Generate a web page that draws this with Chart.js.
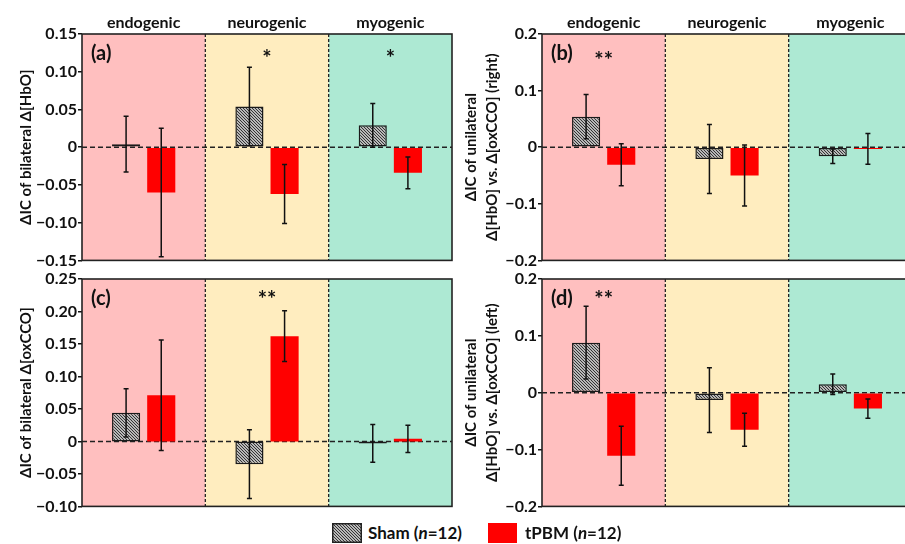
<!DOCTYPE html>
<html>
<head>
<meta charset="utf-8">
<script src="https://cdn.jsdelivr.net/npm/chart.js@4"></script>
<style>
  html, body { margin: 0; padding: 0; background: #fff; overflow: hidden; }
  #wrap { position: relative; width: 905px; height: 544px; overflow: hidden; font-family: Lato, sans-serif; font-weight: bold; }
  canvas { position: absolute; }
  .leg { position: absolute; top: 521px; font-size: 17px; line-height: 24px; color: #111; }
  .sw { position: absolute; top: 523px; height: 20px; }
</style>
</head>
<body>
<div id="wrap">
  <canvas id="ca" width="460" height="271" style="left:0;top:0"></canvas>
  <canvas id="cb" width="465" height="271" style="left:455px;top:0"></canvas>
  <canvas id="cc" width="460" height="255" style="left:0;top:262px"></canvas>
  <canvas id="cd" width="465" height="255" style="left:455px;top:262px"></canvas>
  <canvas id="swSham" class="sw" width="30" height="20" style="left:332px"></canvas>
  <div class="leg" style="left:368px">Sham (<i>n</i>=12)</div>
  <div class="sw" style="left:488px;width:29px;background:#ff0000"></div>
  <div class="leg" style="left:525px">tPBM (<i>n</i>=12)</div>
</div>
<script>
const categories = ['endogenic', 'neurogenic', 'myogenic'];

// (a) bilateral HbO
const shamA = [0.004, 0.054, 0.029];
const shamAErr = [0.037, 0.052, 0.029];
const tpbmA = [-0.060, -0.062, -0.034];
const tpbmAErr = [0.085, 0.039, 0.021];

// (b) unilateral HbO vs oxCCO (right)
const shamB = [0.054, -0.021, -0.016];
const shamBErr = [0.039, 0.061, 0.013];
const tpbmB = [-0.031, -0.050, -0.003];
const tpbmBErr = [0.037, 0.054, 0.027];

// (c) bilateral oxCCO
const shamC = [0.044, -0.035, -0.003];
const shamCErr = [0.037, 0.053, 0.029];
const tpbmC = [0.071, 0.162, 0.004];
const tpbmCErr = [0.085, 0.039, 0.021];

// (d) unilateral HbO vs oxCCO (left)
const shamD = [0.088, -0.013, 0.015];
const shamDErr = [0.064, 0.057, 0.018];
const tpbmD = [-0.111, -0.065, -0.028];
const tpbmDErr = [0.052, 0.029, 0.017];

const starsA = ['', '*', '*'];
const starsB = ['**', '', ''];
const starsC = ['', '**', ''];
const starsD = ['**', '', ''];

const bgColors = ['#ffbfbf', '#ffedbf', '#ade9d3'];
const FONT = 'Lato, sans-serif';

function makeHatch(ctx) {
  const c = document.createElement('canvas');
  c.width = 3; c.height = 3;
  const g = c.getContext('2d');
  g.fillStyle = '#f2f2f2';
  g.fillRect(0, 0, 3, 3);
  g.strokeStyle = '#2a2a2a';
  g.lineWidth = 1.1;
  g.beginPath();
  g.moveTo(-1, -1); g.lineTo(4, 4);
  g.moveTo(-1, 2); g.lineTo(1, 4);
  g.moveTo(2, -1); g.lineTo(4, 1);
  g.stroke();
  return ctx.createPattern(c, 'repeat');
}

// legend swatch
(function () {
  const g = document.getElementById('swSham').getContext('2d');
  g.fillStyle = makeHatch(g);
  g.fillRect(0, 0, 30, 20);
  g.strokeStyle = '#222';
  g.lineWidth = 1.5;
  g.strokeRect(0.75, 0.75, 28.5, 18.5);
})();

const panelPlugin = {
  id: 'panel',
  beforeDatasetsDraw(chart, args, opts) {
    const { ctx, chartArea: a, scales: { x, y } } = chart;
    const w = x.getPixelForValue(1) - x.getPixelForValue(0);
    ctx.save();
    categories.forEach((c, i) => {
      const cx = x.getPixelForValue(i);
      const l = Math.max(a.left, cx - w / 2), r = Math.min(a.right, cx + w / 2);
      ctx.fillStyle = bgColors[i];
      ctx.fillRect(l, a.top, r - l, a.bottom - a.top);
    });
    ctx.strokeStyle = '#222';
    ctx.lineWidth = 1.3;
    ctx.setLineDash([3, 2]);
    for (let i = 1; i < categories.length; i++) {
      const bx = x.getPixelForValue(i) - w / 2;
      ctx.beginPath(); ctx.moveTo(bx, a.top); ctx.lineTo(bx, a.bottom); ctx.stroke();
    }
    ctx.lineWidth = 1.6;
    ctx.setLineDash([5, 3]);
    const y0 = y.getPixelForValue(0);
    ctx.beginPath(); ctx.moveTo(a.left, y0); ctx.lineTo(a.right, y0); ctx.stroke();
    ctx.restore();
  },
  afterDatasetsDraw(chart, args, opts) {
    const { ctx, chartArea: a, scales: { x, y } } = chart;
    ctx.save();
    // error bars
    ctx.strokeStyle = '#111';
    ctx.lineWidth = 1.5;
    chart.data.datasets.forEach((ds, d) => {
      const meta = chart.getDatasetMeta(d);
      ds.data.forEach((v, i) => {
        const e = opts.errs[d][i];
        const bx = meta.data[i].x;
        const yt = y.getPixelForValue(v + e), yb = y.getPixelForValue(v - e);
        ctx.beginPath();
        ctx.moveTo(bx, yt); ctx.lineTo(bx, yb);
        ctx.moveTo(bx - 2.5, yt); ctx.lineTo(bx + 2.5, yt);
        ctx.moveTo(bx - 2.5, yb); ctx.lineTo(bx + 2.5, yb);
        ctx.stroke();
      });
    });
    // significance stars
    ctx.fillStyle = '#111';
    ctx.textAlign = 'center';
    ctx.textBaseline = 'middle';
    ctx.font = 'bold 22px ' + FONT;
    opts.stars.forEach((s, i) => {
      if (s) ctx.fillText(s, x.getPixelForValue(i), a.top + opts.starY);
    });
    // panel tag
    ctx.textAlign = 'left';
    ctx.font = 'bold 20px ' + FONT;
    ctx.fillText(opts.tag, a.left + 9, a.top + 20);
    // frame
    ctx.strokeStyle = '#222';
    ctx.lineWidth = 1.6;
    ctx.strokeRect(a.left, a.top, a.right - a.left, a.bottom - a.top);
    ctx.restore();
  }
};

function makeChart(id, sham, tpbm, errs, stars, starY, tag, yMin, yMax, step, dec, title, axisW, top, titlePad) {
  const ctx = document.getElementById(id).getContext('2d');
  const xScale = {
    position: 'top',
    display: top,
    grid: { display: false, drawTicks: false },
    border: { display: false },
    ticks: { color: '#111', padding: 2, font: { family: FONT, size: 16, weight: 'bold' } }
  };
  if (top) xScale.afterFit = (s) => { s.height = 34; };
  return new Chart(ctx, {
    type: 'bar',
    data: {
      labels: categories,
      datasets: [
        { label: 'Sham', data: sham, backgroundColor: makeHatch(ctx), borderColor: '#1a1a1a', borderWidth: 1.5, borderSkipped: false },
        { label: 'tPBM', data: tpbm, backgroundColor: '#ff0000', borderWidth: 0 }
      ]
    },
    options: {
      responsive: false,
      animation: false,
      categoryPercentage: 0.57,
      barPercentage: 0.8,
      layout: { padding: { top: top ? 0 : 17, right: 8, bottom: 10, left: 0 } },
      plugins: {
        legend: { display: false },
        tooltip: { enabled: false },
        panel: { errs: errs, stars: stars, starY: starY, tag: tag }
      },
      scales: {
        x: xScale,
        y: {
          min: yMin,
          max: yMax,
          grid: { display: true, drawOnChartArea: false, drawTicks: true, tickLength: 4, color: '#111', lineWidth: 1.5 },
          border: { display: false },
          ticks: {
            stepSize: step,
            padding: 1,
            color: '#111',
            font: { family: FONT, size: 16, weight: 'bold' },
            callback: (v) => {
              if (Math.abs(v) < 1e-9) return '0';
              const s = Math.abs(v).toFixed(dec);
              return v < 0 ? '\u2212' + s : s;
            }
          },
          title: {
            display: true,
            text: title,
            color: '#111',
            padding: { top: titlePad, bottom: 0 },
            font: { family: FONT, size: 15, weight: 'bold', lineHeight: 1.4 }
          },
          afterFit: (s) => { s.width = axisW; }
        }
      }
    },
    plugins: [panelPlugin]
  });
}

makeChart('ca', shamA, tpbmA, [shamAErr, tpbmAErr], starsA, 25, '(a)', -0.15, 0.15, 0.05, 2,
  '\u0394IC of bilateral \u0394[HbO]', 82, true, 16);
makeChart('cb', shamB, tpbmB, [shamBErr, tpbmBErr], starsB, 27, '(b)', -0.2, 0.2, 0.1, 1,
  ['\u0394IC of unilateral', '\u0394[HbO] vs. \u0394[oxCCO] (right)'], 87, true, 6);
makeChart('cc', shamC, tpbmC, [shamCErr, tpbmCErr], starsC, 21, '(c)', -0.10, 0.25, 0.05, 2,
  '\u0394IC of bilateral \u0394[oxCCO]', 82, false, 16);
makeChart('cd', shamD, tpbmD, [shamDErr, tpbmDErr], starsD, 21, '(d)', -0.2, 0.2, 0.1, 1,
  ['\u0394IC of unilateral', '\u0394[HbO] vs. \u0394[oxCCO] (left)'], 87, false, 6);
</script>
</body>
</html>
